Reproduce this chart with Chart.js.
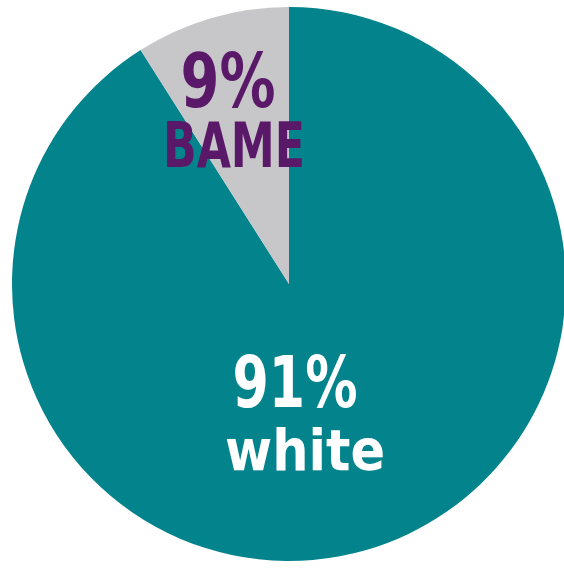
<!DOCTYPE html>
<html>
<head>
<meta charset="utf-8">
<script src="https://cdn.jsdelivr.net/npm/chart.js@4/dist/chart.umd.min.js"></script>
<style>
  html, body { margin: 0; padding: 0; background: #fff; overflow: hidden; }
  #wrap { position: absolute; left: 12px; top: 7px; width: 554px; height: 554px; }
</style>
</head>
<body>
<div id="wrap"><canvas id="pie"></canvas></div>
<script>
// --- data ---
const groups = ['white', 'BAME'];
const shares = [91, 9];
const sliceColors = ['#03838C', '#C7C6C8'];
const labelColors = ['#FFFFFF', '#5A1868'];

// draw a line of text centred at x, squeezed to a target width
function drawFit(ctx, text, font, x, y, width, color) {
    ctx.save();
    ctx.font = font;
    const w = ctx.measureText(text).width;
    const sx = width / w;
    ctx.translate(x, y);
    ctx.scale(sx, 1);
    ctx.fillStyle = color;
    ctx.textAlign = 'center';
    ctx.textBaseline = 'alphabetic';
    ctx.fillText(text, 0, 0);
    ctx.restore();
}

const sliceLabels = {
    id: 'sliceLabels',
    afterDraw(chart) {
        const ctx = chart.ctx;
        const arc = chart.getDatasetMeta(0).data[0];
        const cx = arc.x, cy = arc.y;
        const f = '"DejaVu Sans", sans-serif';
        // BAME slice label
        drawFit(ctx, shares[1] + '%', 'bold 74px ' + f, cx - 61, cy - 177, 95, labelColors[1]);
        drawFit(ctx, groups[1].toUpperCase(), 'bold 62px ' + f, cx - 55, cy - 117, 142, labelColors[1]);
        // white slice label
        drawFit(ctx, shares[0] + '%', 'bold 71px ' + f, cx + 6, cy + 123, 125, labelColors[0]);
        drawFit(ctx, groups[0], 'bold 57px ' + f, cx + 16, cy + 186, 160, labelColors[0]);
    }
};

new Chart(document.getElementById('pie'), {
    type: 'pie',
    data: {
        labels: groups,
        datasets: [{
            data: shares,
            backgroundColor: sliceColors,
            borderWidth: 0
        }]
    },
    options: {
        responsive: true,
        maintainAspectRatio: false,
        animation: false,
        layout: { padding: 0 },
        plugins: {
            legend: { display: false },
            tooltip: { enabled: false }
        }
    },
    plugins: [sliceLabels]
});
</script>
</body>
</html>
